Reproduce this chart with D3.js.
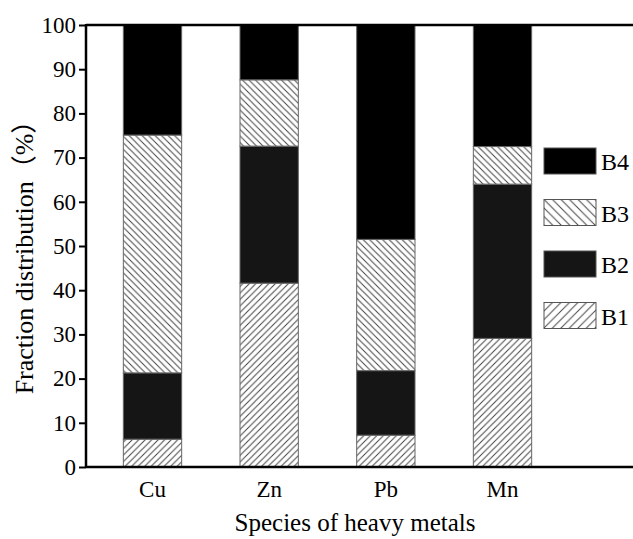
<!DOCTYPE html>
<html>
<head>
<meta charset="utf-8">
<script src="https://cdn.jsdelivr.net/npm/d3@7"></script>
<style>
  body { margin: 0; background: #fff; }
  svg { display: block; }
  svg text { font-family: 'Liberation Serif', 'Noto Sans CJK SC', serif; }
</style>
</head>
<body>
<svg id="chart" width="633" height="539"></svg>
<script>
// Fraction distribution of heavy metals (%)
const metals = ['Cu', 'Zn', 'Pb', 'Mn']
const fractions = ['B1', 'B2', 'B3', 'B4']
const b1 = [6.3, 41.6, 7.2, 29.1]
const b2 = [15.0, 31.0, 14.6, 34.9]
const b3 = [53.8, 15.0, 29.7, 8.5]
const b4 = [24.9, 12.4, 48.5, 27.5]
const yTicks = [0, 10, 20, 30, 40, 50, 60, 70, 80, 90, 100]

const c = {
  width: 633,
  height: 539,
  margin: { left: 86, right: 0, top: 25, bottom: 72 },
  plotRight: 569,
  fontTick: 23,
  fontTitle: 25,
  fontYTitle: 26,
  fontLegend: 24,
}

const data = metals.map((m, i) => ({ metal: m, B1: b1[i], B2: b2[i], B3: b3[i], B4: b4[i] }))

const svg = d3.select('#chart')
const y0 = c.height - c.margin.bottom

const xScale = d3.scaleBand(metals, [c.margin.left, c.plotRight])
  .paddingInner(0.5)
  .paddingOuter(0.32)
const yScale = d3.scaleLinear([0, 100], [y0, c.margin.top])

// hatch patterns
const defs = svg.append('defs')
function hatch (id, size, dir) {
  const p = defs.append('pattern')
    .attr('id', id)
    .attr('patternUnits', 'userSpaceOnUse')
    .attr('width', size)
    .attr('height', size)
  p.append('rect').attr('width', size).attr('height', size).attr('fill', '#fff')
  const s = size
  const d = dir === 'fwd'
    ? `M0,${ s } L${ s },0 M-1,1 L1,-1 M${ s - 1 },${ s + 1 } L${ s + 1 },${ s - 1 }`
    : `M0,0 L${ s },${ s } M-1,${ s - 1 } L1,${ s + 1 } M${ s - 1 },-1 L${ s + 1 },1`
  p.append('path').attr('d', d).attr('stroke', '#444').attr('stroke-width', 1)
}
hatch('b1', 6.5, 'fwd')
hatch('b3', 6.5, 'back')
hatch('b1l', 8.5, 'fwd')
hatch('b3l', 8.5, 'back')

const fillBar = d3.scaleOrdinal(fractions, ['url(#b1)', '#151515', 'url(#b3)', '#000'])
const fillLegend = d3.scaleOrdinal(fractions, ['url(#b1l)', '#151515', 'url(#b3l)', '#000'])

// stacked bars
const series = d3.stack().keys(fractions)(data)

svg.append('g')
  .selectAll('g')
  .data(series)
  .join('g')
  .attr('fill', (d) => fillBar(d.key))
  .selectAll('rect')
  .data((d) => d)
  .join('rect')
  .attr('x', (d) => xScale(d.data.metal))
  .attr('y', (d) => yScale(d[1]))
  .attr('width', xScale.bandwidth())
  .attr('height', (d) => yScale(d[0]) - yScale(d[1]))
  .attr('stroke', '#666')
  .attr('stroke-width', 1)

// Y axis
const yAxis = d3.axisLeft(yScale).tickValues(yTicks).tickSize(7).tickPadding(3)
const yAxisEl = svg.append('g')
  .attr('transform', `translate(${ c.margin.left },0)`)
  .call(yAxis)
yAxisEl.select('.domain').remove()
yAxisEl.selectAll('.tick line').attr('stroke', '#000').attr('stroke-width', 2)
yAxisEl.selectAll('.tick text')
  .style('font-size', `${ c.fontTick }px`)
  .attr('fill', '#000')

// X axis labels (no tick marks)
const xAxis = d3.axisBottom(xScale).tickSize(0).tickPadding(14)
const xAxisEl = svg.append('g')
  .attr('transform', `translate(0,${ y0 })`)
  .call(xAxis)
xAxisEl.select('.domain').remove()
xAxisEl.selectAll('.tick text')
  .style('font-size', `${ c.fontTick }px`)
  .attr('fill', '#000')

// frame lines
svg.append('line')
  .attr('x1', c.margin.left).attr('x2', c.width)
  .attr('y1', y0).attr('y2', y0)
  .attr('stroke', '#000').attr('stroke-width', 2.5)
svg.append('line')
  .attr('x1', c.margin.left).attr('x2', c.width)
  .attr('y1', c.margin.top).attr('y2', c.margin.top)
  .attr('stroke', '#000').attr('stroke-width', 2.5)
svg.append('line')
  .attr('x1', c.margin.left).attr('x2', c.margin.left)
  .attr('y1', c.margin.top - 1).attr('y2', y0 + 1)
  .attr('stroke', '#000').attr('stroke-width', 2.5)

// axis titles
svg.append('text')
  .attr('transform', `translate(33,${ (c.margin.top + y0) / 2 + 5 }) rotate(-90)`)
  .attr('text-anchor', 'middle')
  .style('font-size', `${ c.fontYTitle }px`)
  .text('Fraction distribution（%）')

svg.append('text')
  .attr('x', 355)
  .attr('y', 531)
  .attr('text-anchor', 'middle')
  .style('font-size', `${ c.fontTitle }px`)
  .text('Species of heavy metals')

// legend
const legendKeys = fractions.slice().reverse()
const legend = svg.append('g')
  .selectAll('g')
  .data(legendKeys)
  .join('g')
  .attr('transform', (d, i) => `translate(544,${ 148 + i * 51.5 })`)
legend.append('rect')
  .attr('width', 52)
  .attr('height', 26)
  .attr('fill', (d) => fillLegend(d))
  .attr('stroke', '#555')
  .attr('stroke-width', 1)
legend.append('text')
  .attr('x', 57)
  .attr('y', 22)
  .style('font-size', `${ c.fontLegend }px`)
  .text((d) => d)
</script>
</body>
</html>
